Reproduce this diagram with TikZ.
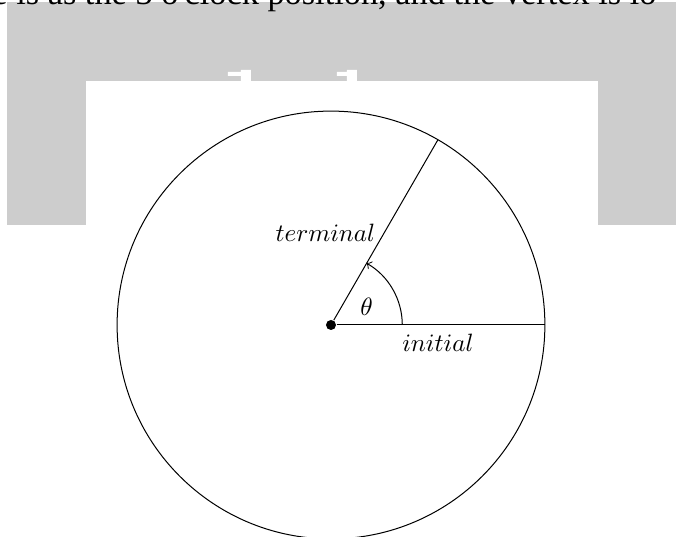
\documentclass[tikz,border=0pt]{standalone}
\usepackage{fontspec}
\newfontfamily\pagefont{Liberation Serif}
\usetikzlibrary{positioning}
\definecolor{bandgray}{HTML}{CDCDCD}

\begin{document}
\begin{tikzpicture}[
    dot/.style={circle, fill=black, inner sep=0pt, minimum size=4pt},
    side/.style={black, thin},
    pagetxt/.style={anchor=base west, inner sep=0pt,
                    font=\pagefont\fontsize{13.7}{16}\selectfont},
  ]
  \useasboundingbox (-4.6424,-2.9734) rectangle (4.8387,4.5582);
  \clip (-4.6424,-2.9734) rectangle (4.8387,4.5582);
  % page behind the figure: grey band, white figure box, cut-off line of text
  \fill[bandgray] (-4.5442,1.4025) rectangle (4.8387,4.5301);
  \fill[white] (-3.4362,1.4025) rectangle (3.7447,3.4222);
  % two letter tops showing above the white box
  \fill[white] (-1.2623,3.4222) rectangle (-1.1220,3.5764)
               (-1.4446,3.4923) rectangle (-1.2623,3.5484);
  \fill[white] (0.2244,3.4222) rectangle (0.3647,3.5764)
               (0.0842,3.4923) rectangle (0.2244,3.5484);
  \node[pagetxt] (pageline) at (-4.7546,4.488)
    {e is as the 3 o'clock position, and the vertex is lo};
  % the circle with the angle in standard position
  \node[dot] (o) at (0,0) {};
  \coordinate (init) at (0:3);
  \coordinate (term) at (60:3);
  \coordinate (arcstart) at (1,0);
  \draw[side] (o.center) circle[radius=3cm];
  \draw[side] (o) -- (init);
  \draw[side] (o) -- (term);
  \draw[side, ->] (arcstart) arc[start angle=0, end angle=60, radius=1cm];
  \node[below] (initlbl) at (1.5,0) {$initial$};
  \node[left] (termlbl) at (60:1.49) {$terminal$};
  \node (thetalbl) at (0.5,0.25) {$\theta$};
\end{tikzpicture}
\end{document}
